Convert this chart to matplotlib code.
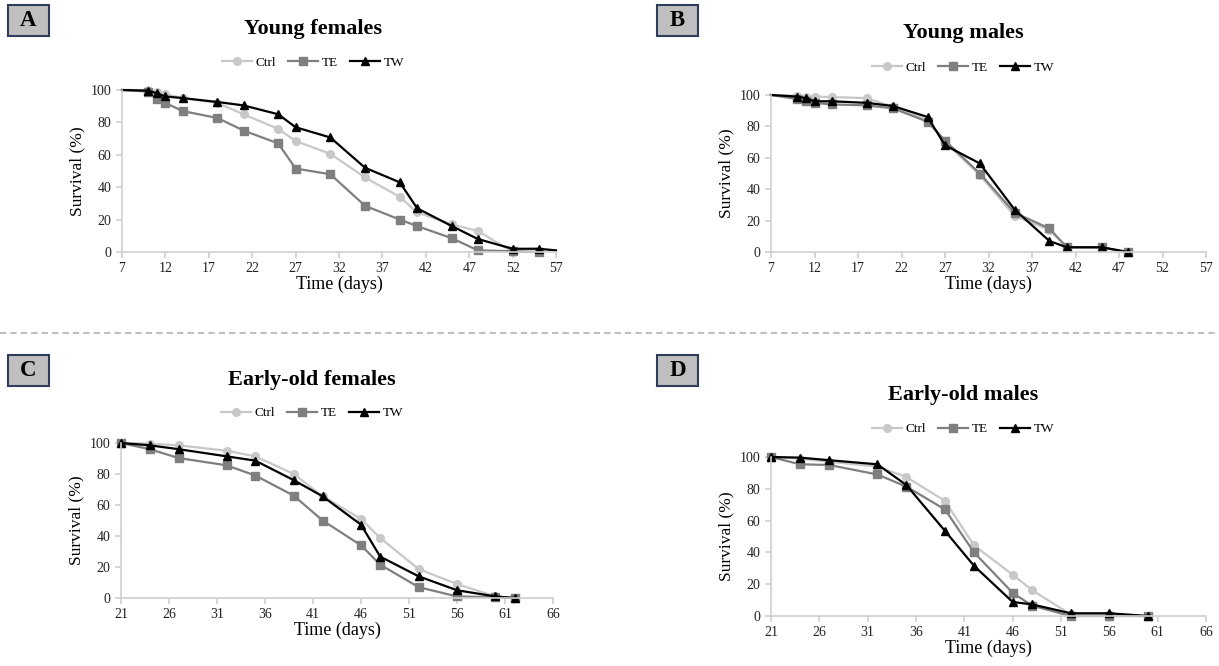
import matplotlib
matplotlib.use("Agg")
import matplotlib.pyplot as plt
from matplotlib.patches import Rectangle
from matplotlib.lines import Line2D

plt.rcParams['font.family'] = ['Liberation Serif', 'DejaVu Serif']

W, H = 1219, 666

# A - young females
daysA = [7, 10, 11, 12, 14, 18, 21, 25, 27, 31, 35, 39, 41, 45, 48, 52, 55]
ctrlA = [100, 100, 99, 97.5, 95, 92, 85, 76, 68.5, 60.6, 46, 34, 24.5, 17, 13, 0, 0]
teA = [100, 99, 94.5, 92, 87, 82.7, 75, 67, 51.5, 48, 28.5, 20, 16, 8.5, 1, 0.5, 0]
daysTwA = [7, 10, 11, 12, 14, 18, 21, 25, 27, 31, 35, 39, 41, 45, 48, 52, 55, 57]
twA = [100, 99.6, 98, 96, 95, 92.6, 90.5, 85, 77, 70.7, 52, 43, 27, 16, 8, 2, 2, 1]

# B - young males
daysB = [7, 10, 11, 12, 14, 18, 21, 25, 27, 31, 35, 39, 41, 45, 48]
ctrlB = [100, 99.5, 99, 99, 98.7, 98, 92.5, 84, 70, 49, 23, 14, 3, 3, 0]
teB = [100, 97.4, 96, 95, 94, 93.4, 91.5, 83, 71, 50, 25, 15, 3, 3, 0]
twB = [100, 99, 98, 96, 96, 95, 93, 86, 68, 56.4, 27, 7, 3, 3, 0]

# C - early-old females
daysC = [21, 24, 27, 32, 35, 39, 42, 46, 48, 52, 56, 60, 62]
ctrlC = [100, 99.6, 98.5, 95, 91.4, 80, 65.6, 51, 38.7, 18.7, 9, 1, 0]
teC = [100, 96, 90.3, 85.6, 79, 66, 50, 34, 21.5, 7, 1, 0.5, 0]
twC = [100, 98.5, 96, 91.4, 88.6, 76, 65.6, 47.3, 26.7, 14, 5, 1, 0]

# D - early-old males
daysD = [21, 24, 27, 32, 35, 39, 42, 46, 48, 52, 56, 60]
ctrlD = [100, 99, 97, 94, 87.4, 72.4, 44.4, 26, 16.3, 1, 0.6, 0]
teD = [100, 95.4, 95, 89, 81.4, 67, 40, 14.6, 6.5, 0, 0, 0]
twD = [100, 99.6, 98, 95.4, 82.4, 53.5, 31.6, 8.8, 7.3, 1.7, 1.7, 0]

groups = ["Ctrl", "TE", "TW"]
colors = {"Ctrl": "#c8c8c8", "TE": "#7f7f7f", "TW": "#000000"}
markers = {"Ctrl": "o", "TE": "s", "TW": "^"}
axisGrey = "#d0d0d0"

fig = plt.figure(figsize=(W / 100, H / 100), dpi=100)


def pixAxes(left, right, top, bottom):
	return fig.add_axes([left / W, 1 - bottom / H, (right - left) / W, (bottom - top) / H])


def drawPanel(ax, series, xmin, xmax):
	for name, x, y, every in series:
		ax.plot(x, y, color=colors[name], marker=markers[name], markersize=5.5,
				linewidth=1.6, markevery=every, clip_on=False, label=name)
	ax.set_xlim(xmin, xmax)
	ax.set_ylim(0, 100)
	ax.set_xticks(range(xmin, xmax + 1, 5))
	ax.set_yticks(range(0, 101, 20))
	for s in ["top", "right"]:
		ax.spines[s].set_visible(False)
	for s in ["left", "bottom"]:
		ax.spines[s].set_color(axisGrey)
		ax.spines[s].set_linewidth(1.2)
	ax.tick_params(axis="both", colors=axisGrey, length=4, width=1.2, labelsize=10,
				   labelcolor="#222222", pad=3.5)
	ax.set_xlabel("Time (days)", fontsize=13, labelpad=0)
	ax.set_ylabel("Survival (%)", fontsize=12.5, labelpad=4)


def panelLabel(letter, x0, y0):
	fig.patches.append(Rectangle((x0 / W, 1 - (y0 + 31) / H), 41 / W, 31 / H,
								 transform=fig.transFigure, facecolor="#bfbfbf",
								 edgecolor="#2f3d5c", linewidth=1.5))
	fig.text((x0 + 20.5) / W, 1 - (y0 + 15.5) / H, letter, fontsize=16.5, fontweight="bold",
			 ha="center", va="center")


def panelTitle(text, cx, cy, legendY, ax):
	fig.text(cx / W, 1 - cy / H, text, fontsize=16, fontweight="bold", ha="center", va="center")
	ax.legend(loc="center", bbox_to_anchor=(cx / W, 1 - legendY / H), bbox_transform=fig.transFigure,
			  ncol=3, frameon=False, fontsize=9.5, handlelength=2.3, handletextpad=0.25,
			  columnspacing=0.9, borderpad=0)


axA = pixAxes(122, 556, 90, 252)
drawPanel(axA, [("Ctrl", daysA, ctrlA, slice(1, None)),
				("TE", daysA, teA, slice(1, None)),
				("TW", daysTwA, twA, slice(1, -1))], 7, 57)
panelTitle("Young females", 313, 29, 63, axA)
panelLabel("A", 8, 5)

axB = pixAxes(771, 1206, 95, 252)
drawPanel(axB, [("Ctrl", daysB, ctrlB, slice(1, None)),
				("TE", daysB, teB, slice(1, None)),
				("TW", daysB, twB, slice(1, None))], 7, 57)
panelTitle("Young males", 963, 33, 68, axB)
panelLabel("B", 657, 5)

axC = pixAxes(121, 553, 443, 598)
drawPanel(axC, [("Ctrl", daysC, ctrlC, None),
				("TE", daysC, teC, None),
				("TW", daysC, twC, None)], 21, 66)
panelTitle("Early-old females", 312, 380, 413, axC)
panelLabel("C", 8, 355)

axD = pixAxes(771, 1206, 457, 616)
drawPanel(axD, [("Ctrl", daysD, ctrlD, None),
				("TE", daysD, teD, None),
				("TW", daysD, twD, None)], 21, 66)
panelTitle("Early-old males", 963, 395, 429, axD)
panelLabel("D", 657, 355)

# dashed separator between the two rows
fig.lines.append(Line2D([0, 1], [1 - 333 / H, 1 - 333 / H], transform=fig.transFigure,
						color="#bfbfbf", linewidth=1.5, linestyle=(0, (3, 2))))

fig.savefig("out.png", dpi=100)
